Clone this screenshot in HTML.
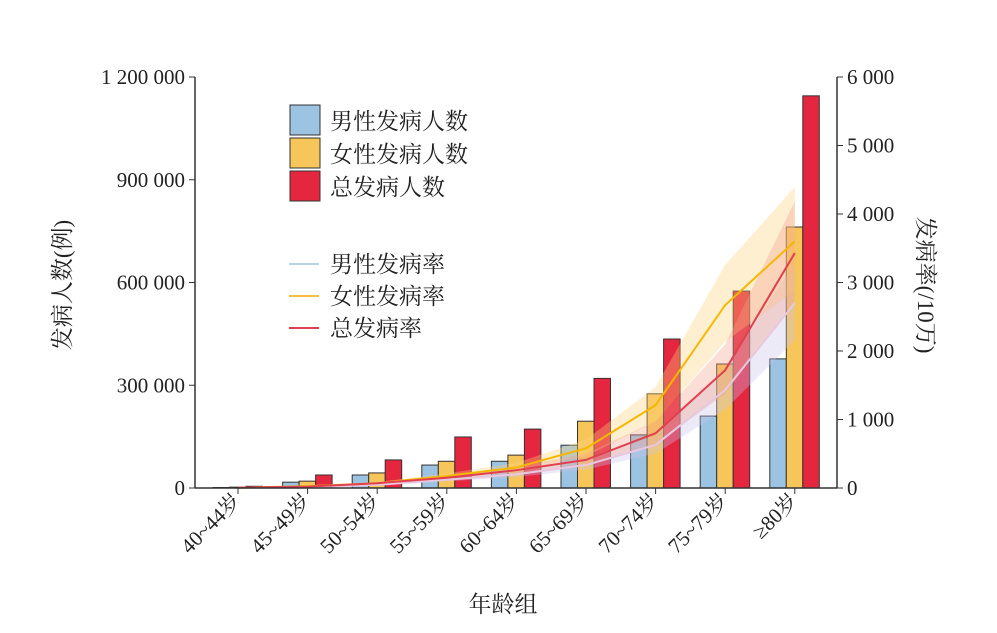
<!DOCTYPE html>
<html><head><meta charset="utf-8"><style>
body{margin:0;background:#fff;}
svg text{font-family:"Liberation Serif","Noto Serif CJK SC",serif;fill:#222;}
</style></head><body>
<svg id="c" width="997" height="628"></svg>
<script>
const categories=["40~44岁","45~49岁","50~54岁","55~59岁","60~64岁","65~69岁","70~74岁","75~79岁","≥80岁"];
const maleCount=[1500,17000,38000,67000,78000,125000,155000,210000,377000];
const femaleCount=[2500,20000,44000,78000,96000,195000,275000,362000,762000];
const totalCount=[5000,38000,82000,149000,172000,320000,435000,575000,1145000];
const maleRate=[3,12,45,120,200,335,630,1430,2700];
const femaleRate=[4,25,70,175,300,580,1210,2670,3600];
const totalRate=[5,20,70,150,260,410,800,1720,3430];
const leftTicks=[0,300000,600000,900000,1200000];
const leftTickLabels=["0","300 000","600 000","900 000","1 200 000"];
const rightTicks=[0,1000,2000,3000,4000,5000,6000];
const rightTickLabels=["0","1 000","2 000","3 000","4 000","5 000","6 000"];

const NS="http://www.w3.org/2000/svg",svg=document.getElementById('c');
function mk(t,a,p){const e=document.createElementNS(NS,t);for(const k in a)e.setAttribute(k,a[k]);(p||svg).appendChild(e);return e;}
const X0=195,X1=837,Y0=488,Y1=77;
const yL=v=>Y0-(v/1200000)*(Y0-Y1);
const yR=v=>Y0-(v/6000)*(Y0-Y1);
const xC=i=>238+i*69.6;
const bw=16.5;
// bars
const series=[[maleCount,"#9dc3e2",-25,"bar-male"],[femaleCount,"#f7c65a",-8.5,"bar-female"],[totalCount,"#e4263f",8,"bar-total"]];
series.forEach(s=>{s[0].forEach((v,i)=>{const r=mk('rect',{x:xC(i)+s[2],y:yL(v),width:bw,height:Y0-yL(v),fill:s[1],stroke:"#333","stroke-width":1});

});});
// rate bands & lines
const rates=[[maleRate,"#c9c2e8","#e8c8e0","male-rate"],[femaleRate,"#fbd27a","#f5b800","female-rate"],[totalRate,"#f4a08a","#e0404f","total-rate"]];
rates.forEach(s=>{const d=s[0];let up="",lo="";
d.forEach((v,i)=>{up+=(i?"L":"M")+xC(i)+","+yR(v*1.22);});
for(let i=d.length-1;i>=0;i--)lo+="L"+xC(i)+","+yR(d[i]*0.8);
const b=mk('path',{d:up+lo+"Z",fill:s[1],opacity:0.35});

});
rates.forEach(s=>{const l=mk('polyline',{points:s[0].map((v,i)=>xC(i)+","+yR(v)).join(" "),fill:"none",stroke:s[2],"stroke-width":2});

});
// axes
const ax=mk('g',{});
mk('line',{x1:X0,y1:Y1,x2:X0,y2:Y0,stroke:"#333","stroke-width":1.5},ax);
mk('line',{x1:X1,y1:Y1,x2:X1,y2:Y0,stroke:"#333","stroke-width":1.5},ax);
mk('line',{x1:X0,y1:Y0,x2:X1,y2:Y0,stroke:"#333","stroke-width":1.5},ax);
leftTicks.forEach((v,i)=>{mk('line',{x1:X0-6,x2:X0,y1:yL(v),y2:yL(v),stroke:"#333"},ax);
const t=mk('text',{x:X0-10,y:yL(v)+7,"text-anchor":"end","font-size":21},ax);t.textContent=leftTickLabels[i];

});
rightTicks.forEach((v,i)=>{mk('line',{x1:X1,x2:X1+6,y1:yR(v),y2:yR(v),stroke:"#333"},ax);
const t=mk('text',{x:X1+10,y:yR(v)+7,"font-size":21},ax);t.textContent=rightTickLabels[i];

});
categories.forEach((c,i)=>{mk('line',{x1:xC(i),x2:xC(i),y1:Y0,y2:Y0+6,stroke:"#333"},ax);
const t=mk('text',{x:xC(i)+4,y:Y0+14,"text-anchor":"end","font-size":21,transform:`rotate(-45 ${xC(i)+4} ${Y0+14})`},ax);t.textContent=c;

});
function txt(s,a,n){const t=mk('text',a);t.textContent=s;return t;}
txt("年龄组",{x:503,y:612,"text-anchor":"middle","font-size":23},"x-axis-title");
txt("发病人数(例)",{x:70,y:285,"text-anchor":"middle","font-size":23,transform:"rotate(-90 70 285)"},"left-y-axis-title");
txt("发病率(/10万)",{x:918,y:285,"text-anchor":"middle","font-size":23,transform:"rotate(90 918 285)"},"right-y-axis-title");
// legend
const lg=[["男性发病人数","#9dc3e2",105],["女性发病人数","#f7c65a",138],["总发病人数","#e4263f",171]];
lg.forEach(l=>{const r=mk('rect',{x:290,y:l[2],width:30,height:30,fill:l[1],stroke:"#333"});
txt(l[0],{x:330,y:l[2]+24,"font-size":23},"legend-entry");});
const ll=[["男性发病率","#b8d4e4",264],["女性发病率","#f5c040",296],["总发病率","#e0404f",328]];
ll.forEach(l=>{const r=mk('line',{x1:289,x2:319,y1:l[2],y2:l[2],stroke:l[1],"stroke-width":2});
txt(l[0],{x:330,y:l[2]+8,"font-size":23},"legend-entry");});
</script>
</body></html>
